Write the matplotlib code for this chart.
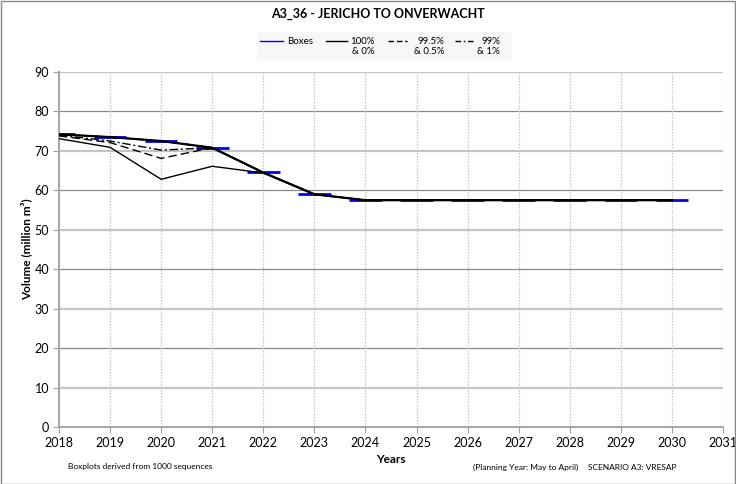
import numpy as np
import matplotlib
matplotlib.use("Agg")
import matplotlib.pyplot as plt
from matplotlib.lines import Line2D
from matplotlib.patches import Rectangle

plt.rcParams['font.family'] = ['Lato', 'DejaVu Sans']

# ---- data ----
years = [2018, 2019, 2020, 2021, 2022, 2023, 2024, 2025, 2026, 2027, 2028, 2029, 2030]
boxes = [74.2, 73.5, 72.5, 70.8, 64.6, 59.0, 57.5, 57.5, 57.5, 57.5, 57.5, 57.5, 57.5]
p100 = [74.2, 73.5, 72.5, 70.8, 64.5, 59.0, 57.5, 57.5, 57.5, 57.5, 57.5, 57.5, 57.5]
p0 = [73.1, 70.9, 62.8, 66.1, 64.4, 59.0, 57.5, 57.5, 57.5, 57.5, 57.5, 57.5, 57.5]
p995 = [74.2, 73.5, 72.5, 70.8, 64.5, 59.0, 57.5, 57.5, 57.5, 57.5, 57.5, 57.5, 57.5]
p05 = [73.8, 72.1, 68.1, 70.8, 64.5, 59.0, 57.5, 57.5, 57.5, 57.5, 57.5, 57.5, 57.5]
p99 = [74.2, 73.5, 72.5, 70.8, 64.5, 59.0, 57.5, 57.5, 57.5, 57.5, 57.5, 57.5, 57.5]
p1 = [74.0, 72.5, 70.2, 70.8, 64.5, 59.0, 57.5, 57.5, 57.5, 57.5, 57.5, 57.5, 57.5]
xticks = list(range(2018, 2032))
yticks = list(range(0, 100, 10))

title = "A3_36 - JERICHO TO ONVERWACHT"

fig = plt.figure(figsize=(7.36, 4.84), dpi=100)
ax = fig.add_axes([59/736, 1-427/484, (723-59)/736, (427-72)/484])

yr = np.array(years, dtype=float)
half = 0.32
ax.hlines(boxes, yr - half, yr + half, colors='#0000ff', linewidth=2.0, zorder=3)

ax.plot(years, p0, color='black', lw=1.0, zorder=4)
ax.plot(years, p05, color='black', lw=1.0, ls=(0, (6, 3)), zorder=4)
ax.plot(years, p1, color='black', lw=1.0, ls=(0, (6, 2, 1.5, 2)), zorder=4)
ax.plot(years, p99, color='black', lw=1.0, ls=(0, (6, 2, 1.5, 2)), zorder=4)
ax.plot(years, p995, color='black', lw=1.0, ls=(0, (6, 3)), zorder=4)
ax.plot(years, p100, color='black', lw=1.6, zorder=5)

ax.set_xlim(2018, 2031)
ax.set_ylim(0, 90)
ax.set_xticks(xticks)
ax.set_yticks(yticks)
ax.tick_params(axis='both', direction='out', length=4, color='#a0a0a0', labelsize=9, pad=3)

# gridlines
for y in yticks[1:]:
    if (y // 10) % 2 == 1:
        ax.axhline(y, color='#c4c4c4', lw=1.6, zorder=1)
    else:
        ax.axhline(y, color='#8a8a8a', lw=0.9, zorder=1)
for x in xticks[1:]:
    ax.axvline(x, color='#c4c4c4', lw=0.9, ls=(0, (1.2, 1.2)), zorder=1)

for s in ['top', 'right']:
    ax.spines[s].set_visible(False)
for s in ['left', 'bottom']:
    ax.spines[s].set_color('#a8a8a8')
    ax.spines[s].set_linewidth(1.5)

ax.set_xlabel("Years", fontsize=8.5, fontweight='bold', labelpad=4)
ax.set_ylabel("Volume (million m³)", fontsize=8.5, fontweight='bold', labelpad=2)

fig.text(378/736, 1-14/484, title, ha='center', va='center', fontsize=9, fontweight='bold')

# legend (manual)
def fx(px):
    return px/736
def fy(py):
    return 1-py/484

fig.patches.append(Rectangle((fx(257), fy(60)), fx(512)-fx(257), fy(32)-fy(60),
                             transform=fig.transFigure, facecolor='#f7f7f7', edgecolor='none', zorder=0))
leg_items = [
    ((260, 283), '#0000ff', '-', 'Boxes', None, 287),
    ((326, 347), 'black', '-', '100%', '& 0%', 375),
    ((388, 407), 'black', (0, (4, 2)), '99.5%', '& 0.5%', 444),
    ((455, 475), 'black', (0, (4, 2, 1, 2)), '99%', '& 1%', 500),
]
for (x0, x1), c, ls, t1, t2, tx in leg_items:
    fig.add_artist(Line2D([fx(x0), fx(x1)], [fy(41), fy(41)], color=c, ls=ls, lw=1.0,
                          transform=fig.transFigure))
    if t2 is None:
        fig.text(fx(tx), fy(41), t1, ha='left', va='center', fontsize=7)
    else:
        fig.text(fx(tx), fy(41), t1, ha='right', va='center', fontsize=7)
        fig.text(fx(tx), fy(52), t2, ha='right', va='center', fontsize=7)

# footer
fig.text(fx(68), fy(467), "Boxplots derived from 1000 sequences", ha='left', va='center', fontsize=6)
fig.text(fx(473), fy(467), "(Planning Year: May to April)", ha='left', va='center', fontsize=6)
fig.text(fx(588), fy(467), "SCENARIO A3: VRESAP", ha='left', va='center', fontsize=6)

# outer border
fig.patches.append(Rectangle((0.5/736, 0.5/484), 734.5/736, 482.5/484, transform=fig.transFigure,
                             facecolor='none', edgecolor='#888888', lw=1.0))

fig.savefig("out.png", dpi=100)
